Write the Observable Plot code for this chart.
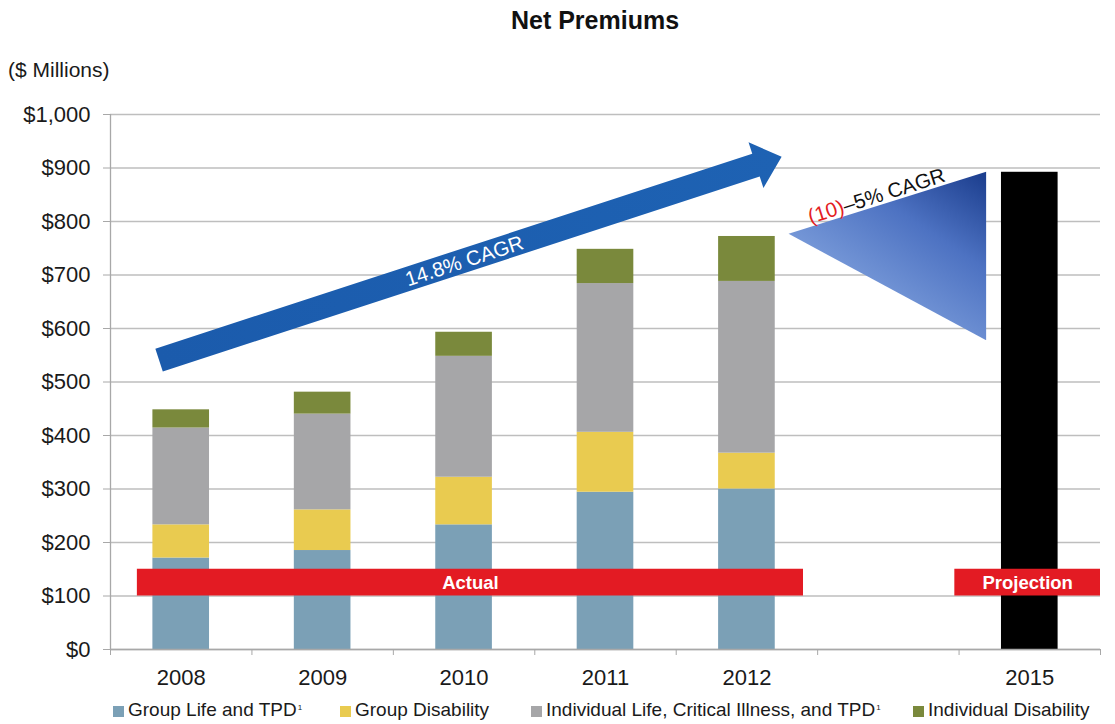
<!DOCTYPE html>
<html><head><meta charset="utf-8">
<script src="https://cdn.jsdelivr.net/npm/d3@7"></script>
<script src="https://cdn.jsdelivr.net/npm/@observablehq/plot@0.6"></script>
<style>
body{margin:0;background:#fff;font-family:"Liberation Sans",Arial,sans-serif;}
#root{position:relative;width:1115px;height:724px;overflow:hidden;background:#fff}
#title{position:absolute;left:395px;width:400px;top:8px;text-align:center;font-weight:bold;font-size:25px;line-height:25px;color:#111;z-index:2}
#unit{position:absolute;left:8px;top:59px;font-size:21px;line-height:21px;color:#1a1a1a;z-index:2}
#chart{position:absolute;left:0;top:40px;z-index:1}
.item{position:absolute;top:700px;font-size:19px;line-height:19px;color:#1a1a1a;white-space:nowrap}
.sw{position:absolute;left:0;top:6px;width:11px;height:11px}
.item span.t{position:absolute;left:15px;top:0}
sup{font-size:8px;vertical-align:top;position:relative;top:-2px;margin-left:1px}
</style></head><body>
<div id="root">
  <div id="title">Net Premiums</div>
  <div id="unit">($ Millions)</div>
  <div id="chart"></div>
  <div id="legend"></div>
</div>
<script>
// ---- data ----
const years = ["2008", "2009", "2010", "2011", "2012", "2015"];
const slots = [0, 1, 2, 3, 4, 6]; // slot 5 is an empty gap before 2015
const seriesNames = ["Group Life and TPD", "Group Disability", "Individual Life, Critical Illness, and TPD", "Individual Disability"];
const groupLife = [171, 185, 233, 294, 300];
const groupDisability = [62, 76, 89, 112, 67];
const individualLife = [181, 179, 226, 278, 321];
const individualDisability = [34, 41, 45, 64, 84];
const projection2015 = 892;
const seriesColors = ["#7BA0B6", "#E9CB50", "#A6A6A8", "#7A893C"];
const projectionColor = "#000000";
const yTicks = [0, 100, 200, 300, 400, 500, 600, 700, 800, 900, 1000];
const legendSup = [true, false, true, false];

// annotations (in data units: x = slot index, y = $ millions)
const banners = [
  {label: "Actual", x1: 0.19, x2: 4.9, y1: 100, y2: 150},
  {label: "Projection", x1: 5.97, x2: 7.0, y1: 100, y2: 150}
];
const growthArrow = {from: [0.347, 540], to: [4.749, 920], label: "14.8% CAGR"};
const wedge = {points: [[4.798, 776], [6.195, 892], [6.195, 577]], low: "(10)", high: "–5% CAGR"};

// ---- table ----
const seriesValues = [groupLife, groupDisability, individualLife, individualDisability];
const rows = [];
years.slice(0, 5).forEach((yr, i) => {
  seriesNames.forEach((s, k) => rows.push({year: yr, slot: slots[i], series: s, value: seriesValues[k][i]}));
});
rows.push({year: "2015", slot: slots[5], series: "Projection", value: projection2015});

const centers = slots.map(s => s + 0.5);
const boundaries = d3.range(0, 8);
const fmt = d => "$" + d3.format(",")(d);

const plot = Plot.plot({
  width: 1115,
  height: 652,
  marginLeft: 110,
  marginRight: 15,
  marginTop: 74,
  marginBottom: 43,
  style: {fontFamily: "Liberation Sans, Arial, sans-serif", color: "#1a1a1a", background: "transparent", overflow: "visible"},
  x: {type: "linear", domain: [0, 7]},
  y: {domain: [0, 1000]},
  color: {domain: [...seriesNames, "Projection"], range: [...seriesColors, projectionColor]},
  marks: [
    Plot.gridY({ticks: yTicks, stroke: "#BEBEBE", strokeOpacity: 1, strokeWidth: 1.3}),
    Plot.rectY(rows, {x: "slot", interval: 1, y: "value", fill: "series", insetLeft: 42.4, insetRight: 42.4}),
    Plot.ruleX([0], {stroke: "#A8A8A8", strokeWidth: 1.3}),
    Plot.ruleY([0], {stroke: "#A8A8A8", strokeWidth: 1.3}),
    Plot.axisY({ticks: yTicks, tickSize: 7, tickPadding: 13, tickFormat: fmt, fontSize: 22, stroke: "#A8A8A8", fill: "#1a1a1a", label: null}),
    Plot.axisX({ticks: boundaries, tickSize: 6, tickFormat: () => "", stroke: "#A8A8A8", fill: "none", label: null}),
    Plot.axisX({ticks: centers, tickSize: 0, tickPadding: 20, tickFormat: v => years[centers.indexOf(v)], fontSize: 22, fill: "#1a1a1a", label: null}),
    Plot.rect(banners, {x1: "x1", x2: "x2", y1: "y1", y2: "y2", fill: "#E31B23"}),
    Plot.text(banners, {x: d => (d.x1 + d.x2) / 2, y: d => (d.y1 + d.y2) / 2, text: "label", fill: "white", fontWeight: "bold", fontSize: 18.5, letterSpacing: 0.5})
  ]
});
document.getElementById("chart").appendChild(plot);

// ---- arrow & wedge through the plot's scales ----
const X = plot.scale("x").apply, Y = plot.scale("y").apply;
const svg = d3.select(plot);
const defs = svg.append("defs");

// wedge
const W = wedge.points.map(([a, b]) => [X(a), Y(b)]);
const grad = defs.append("linearGradient").attr("id", "wedgeGrad").attr("gradientUnits", "userSpaceOnUse")
  .attr("x1", W[1][0]).attr("y1", W[1][1]).attr("x2", W[1][0] - 90).attr("y2", W[1][1] + 135);
grad.append("stop").attr("offset", 0).attr("stop-color", "#1A3C8C");
grad.append("stop").attr("offset", 0.5).attr("stop-color", "#4D72C2");
grad.append("stop").attr("offset", 1).attr("stop-color", "#7597D7");
svg.append("polygon").attr("points", W.map(p => p.join(",")).join(" ")).attr("fill", "url(#wedgeGrad)");
{
  const [A, B] = [W[0], W[1]];
  const ang = Math.atan2(B[1] - A[1], B[0] - A[0]);
  const t = 0.46;
  const cx = A[0] + (B[0] - A[0]) * t + Math.sin(ang) * 3;
  const cy = A[1] + (B[1] - A[1]) * t - Math.cos(ang) * 3;
  const txt = svg.append("text").attr("transform", `translate(${cx},${cy}) rotate(${ang * 180 / Math.PI})`)
    .attr("text-anchor", "middle").attr("font-size", 20.5).attr("font-family", "Liberation Sans, Arial, sans-serif");
  txt.append("tspan").attr("fill", "#E3201E").text(wedge.low);
  txt.append("tspan").attr("fill", "#111").text(wedge.high);
}

// arrow
{
  const T = [X(growthArrow.from[0]), Y(growthArrow.from[1])];
  const P = [X(growthArrow.to[0]), Y(growthArrow.to[1])];
  const dx = P[0] - T[0], dy = P[1] - T[1], L = Math.hypot(dx, dy);
  const u = [dx / L, dy / L], n = [u[1], -u[0]];
  const hw = 12, hh = 24, hl = 27;
  const B = [P[0] - u[0] * hl, P[1] - u[1] * hl];
  const pt = (p, k) => [p[0] + n[0] * k, p[1] + n[1] * k];
  const poly = [pt(T, hw), pt(B, hw), pt(B, hh), P, pt(B, -hh), pt(B, -hw), pt(T, -hw)];
  const ag = defs.append("linearGradient").attr("id", "arrowGrad").attr("gradientUnits", "userSpaceOnUse")
    .attr("x1", T[0]).attr("y1", T[1]).attr("x2", P[0]).attr("y2", P[1]);
  ag.append("stop").attr("offset", 0).attr("stop-color", "#1B5BAC");
  ag.append("stop").attr("offset", 1).attr("stop-color", "#1E62B3");
  svg.append("polygon").attr("points", poly.map(p => p.join(",")).join(" ")).attr("fill", "url(#arrowGrad)");
  const ang = Math.atan2(dy, dx) * 180 / Math.PI;
  const m = 0.49;
  svg.append("text").attr("transform", `translate(${T[0] + dx * m},${T[1] + dy * m}) rotate(${ang})`)
    .attr("text-anchor", "middle").attr("dy", "0.36em").attr("fill", "white").attr("font-size", 20.5)
    .attr("font-family", "Liberation Sans, Arial, sans-serif").text(growthArrow.label);
}

// ---- legend ----
const legendLefts = [113, 340, 531, 913];
const legend = document.getElementById("legend");
seriesNames.forEach((s, k) => {
  const it = document.createElement("div");
  it.className = "item";
  it.style.left = legendLefts[k] + "px";
  it.innerHTML = `<span class="sw" style="background:${seriesColors[k]}"></span><span class="t">${s}${legendSup[k] ? "<sup>1</sup>" : ""}</span>`;
  legend.appendChild(it);
});
</script>
</body></html>
